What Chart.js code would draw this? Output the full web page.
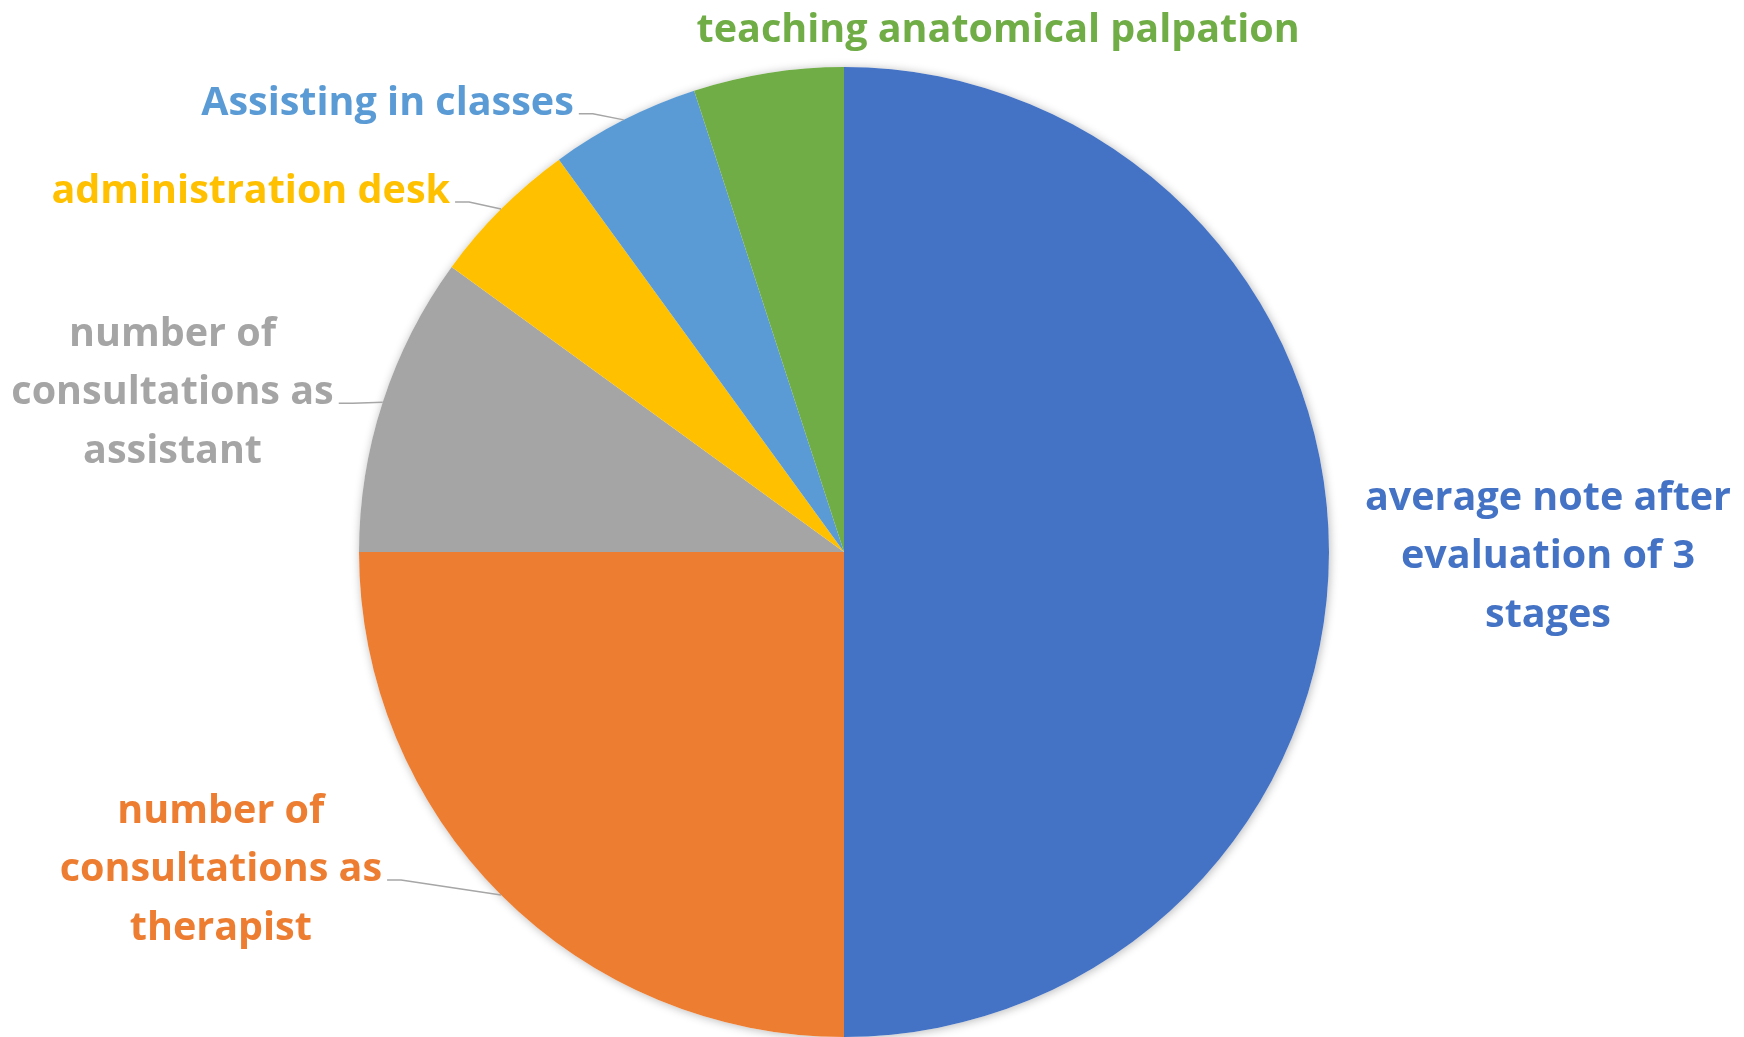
<!DOCTYPE html>
<html lang="en">
<head>
    <meta charset="UTF-8">
    <title>Evaluation weights</title>
    <script src="https://cdn.jsdelivr.net/npm/chart.js"></script>
    <style>
        body { margin: 0; background: #ffffff; }
        .wrap { width: 1744px; height: 1037px; }
    </style>
</head>
<body>
    <div class="wrap">
        <canvas id="pieChart" width="1744" height="1037"></canvas>
    </div>

    <script>
        // data (percent of total)
        const categories = [
            ['average note after', 'evaluation of 3', 'stages'],
            ['number of', 'consultations as', 'therapist'],
            ['number of', 'consultations as', 'assistant'],
            ['administration desk'],
            ['Assisting in classes'],
            ['teaching anatomical palpation']
        ];
        const shares = [50, 25, 10, 5, 5, 5];
        const colors = ['#4472C4', '#ED7D31', '#A5A5A5', '#FFC000', '#5B9BD5', '#70AD47'];

        // where each label sits, relative to the slice's outer mid point
        const labelSpots = [
            { dx: 219, dy: 5, align: 'center', leader: false },
            { dx: -119, dy: -25, align: 'right', leader: true },
            { dx: -49, dy: -9, align: 'right', leader: true },
            { dx: -51, dy: -17, align: 'right', leader: true },
            { dx: -50, dy: -16, align: 'right', leader: true },
            { dx: 230, dy: -42, align: 'center', leader: false }
        ];

        const FONT = 'bold 39.5px "Open Sans", sans-serif';
        const LINE_H = 58.5;

        // soft shadow behind the whole pie
        const pieShadow = {
            id: 'pieShadow',
            beforeDatasetsDraw(chart) {
                const arc = chart.getDatasetMeta(0).data[0];
                if (!arc) return;
                const c = chart.ctx;
                c.save();
                c.shadowColor = 'rgba(0,0,0,0.28)';
                c.shadowBlur = 10;
                c.shadowOffsetX = 1;
                c.shadowOffsetY = 1;
                c.fillStyle = '#ffffff';
                c.beginPath();
                c.arc(arc.x, arc.y, arc.outerRadius, 0, Math.PI * 2);
                c.fill();
                c.restore();
            }
        };

        const sliceLabels = {
            id: 'sliceLabels',
            afterDatasetsDraw(chart) {
                const c = chart.ctx;
                const arcs = chart.getDatasetMeta(0).data;
                c.save();
                c.font = FONT;
                c.textBaseline = 'middle';
                c.textAlign = 'center';
                arcs.forEach((arc, i) => {
                    const mid = (arc.startAngle + arc.endAngle) / 2;
                    const ex = arc.x + Math.cos(mid) * arc.outerRadius;
                    const ey = arc.y + Math.sin(mid) * arc.outerRadius;
                    const spot = labelSpots[i];
                    const lines = categories[i];
                    const maxW = Math.max(...lines.map(l => c.measureText(l).width));
                    let cx = ex + spot.dx;
                    if (spot.align === 'right') cx = cx - maxW / 2;
                    const cy = ey + spot.dy;

                    if (spot.leader) {
                        const sx = cx + maxW / 2 + 5;
                        const sy = cy + 10;
                        c.strokeStyle = '#A6A6A6';
                        c.lineWidth = 1.5;
                        c.beginPath();
                        c.moveTo(sx, sy);
                        c.lineTo(sx + 14, sy);
                        c.lineTo(ex, ey);
                        c.stroke();
                    }

                    c.fillStyle = colors[i];
                    const top = cy - (lines.length - 1) * LINE_H / 2;
                    lines.forEach((l, k) => c.fillText(l, cx, top + k * LINE_H));
                });
                c.restore();
            }
        };

        new Chart(document.getElementById('pieChart'), {
            type: 'pie',
            data: {
                labels: categories,
                datasets: [{
                    data: shares,
                    backgroundColor: colors,
                    borderWidth: 0
                }]
            },
            options: {
                responsive: false,
                animation: false,
                events: [],
                layout: { padding: { top: 67, bottom: 0, left: 0, right: 56 } },
                plugins: {
                    legend: { display: false },
                    tooltip: { enabled: false }
                }
            },
            plugins: [pieShadow, sliceLabels]
        });
    </script>
</body>
</html>
